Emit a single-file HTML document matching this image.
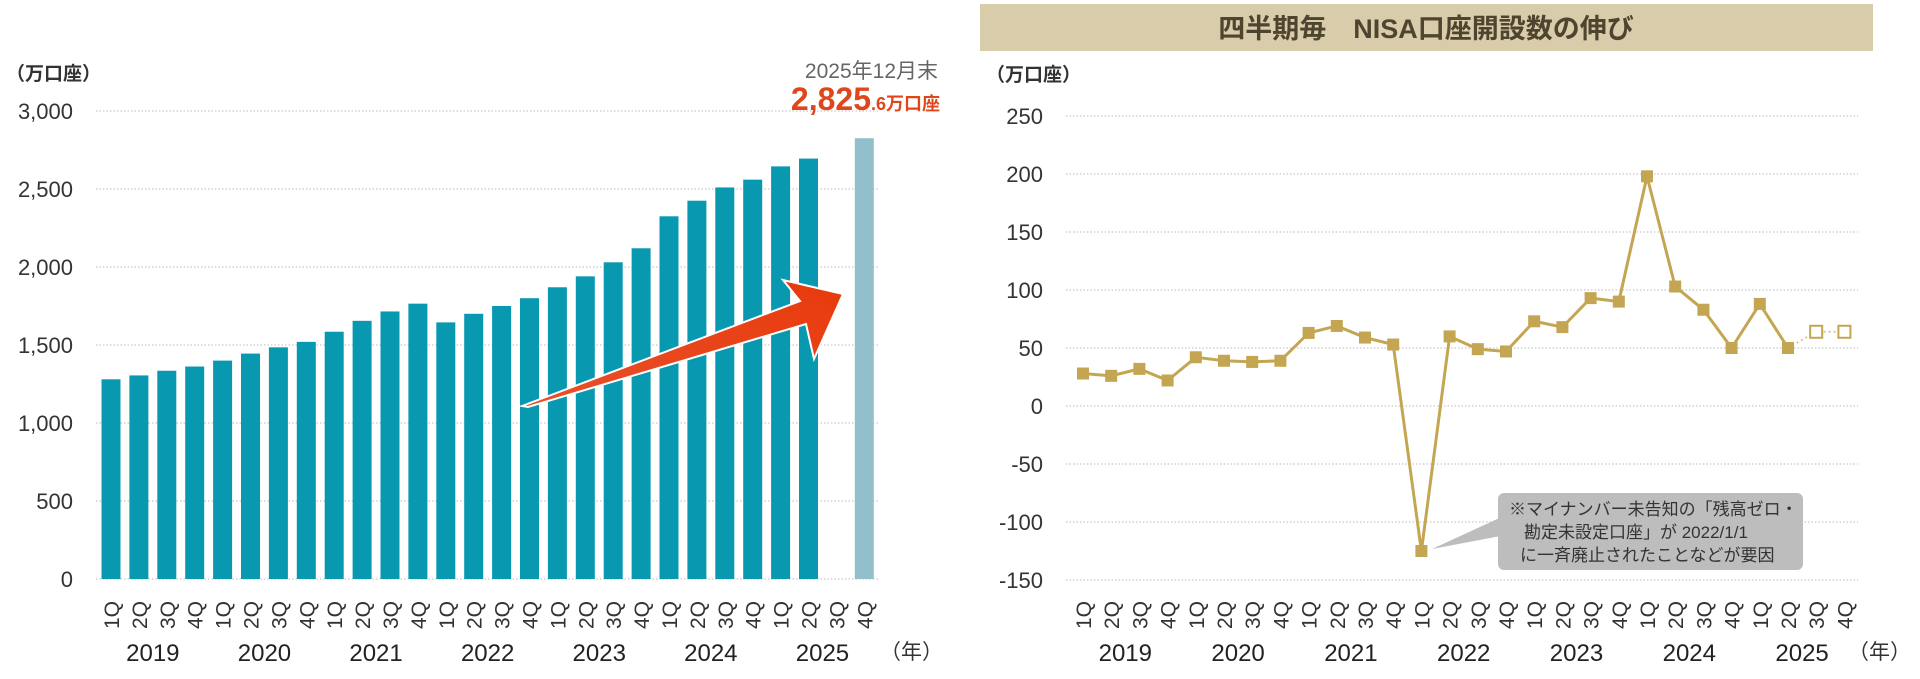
<!DOCTYPE html>
<html><head><meta charset="utf-8"><style>
body{margin:0;background:#fff;width:1920px;height:674px;overflow:hidden;font-family:"Liberation Sans","Noto Sans CJK JP",sans-serif}
svg text{font-family:"Liberation Sans","Noto Sans CJK JP",sans-serif}
</style></head><body>
<svg id="c" width="1920" height="674" viewBox="0 0 1920 674">
<defs><linearGradient id="ag" x1="0" y1="1" x2="1" y2="0"><stop offset="0" stop-color="#e8502a"/><stop offset="1" stop-color="#e83a0c"/></linearGradient></defs>
<g id="left"></g>
<g id="right"></g>
</svg>
<script>
const qLabels=["1Q","2Q","3Q","4Q"];
const years=["2019","2020","2021","2022","2023","2024","2025"];
const totalValues=[1280,1305,1335,1362,1400,1445,1485,1520,1585,1655,1715,1765,1645,1700,1750,1800,1870,1940,2030,2120,2325,2425,2510,2560,2645,2695,null,2825.6];
const leftTicks=[0,500,1000,1500,2000,2500,3000];
const leftTickLabels=["0","500","1,000","1,500","2,000","2,500","3,000"];
const growthValues=[28,26,32,22,42,39,38,39,63,69,59,53,-125,60,49,47,73,68,93,90,198,103,83,50,88,50];
const projectedValues=[64,64];
const rightTicks=[250,200,150,100,50,0,-50,-100,-150];
const NS="http://www.w3.org/2000/svg";
function mk(p,t,a,txt){const e=document.createElementNS(NS,t);for(const k in a)e.setAttribute(k,a[k]);if(txt!=null)e.textContent=txt;p.appendChild(e);return e;}
const L=document.getElementById('left'),R=document.getElementById('right');
const ly=v=>579-(v/3000)*468;
const lx=i=>111+i*27.9;
leftTicks.forEach((t,i)=>{
 const g=mk(L,'line',{x1:96,x2:878,y1:ly(t),y2:ly(t),stroke:'#c8c8c8','stroke-width':1.2,'stroke-dasharray':'1.5 2'});
 
 const tx=mk(L,'text',{x:73,y:ly(t)+8,'text-anchor':'end','font-size':22,fill:'#333'},leftTickLabels[i]);
 
});
totalValues.forEach((v,i)=>{ if(v==null)return;
 const r=mk(L,'rect',{x:lx(i)-9.5,y:ly(v),width:19,height:579-ly(v),fill:i==27?'#92bfc9':'#0898b0'});
 
});
function xLabels(P,xf,yq,yy,nx){
 for(let i=0;i<28;i++){const t=mk(P,'text',{x:0,y:0,transform:`translate(${xf(i)+8},${yq}) rotate(-90)`,'font-size':21,fill:'#333'},qLabels[i%4]);
  }
 years.forEach((y,k)=>{const t=mk(P,'text',{x:xf(k*4+1.5),y:yy,'text-anchor':'middle','font-size':24,fill:'#222'},y);
  });
 const n=mk(P,'text',{x:nx,y:yy-2,'font-size':21,fill:'#333'},'（年）');
}
xLabels(L,lx,629,661,880);
let t=mk(L,'text',{x:6,y:80,'font-size':19,'font-weight':'bold',fill:'#333'},'（万口座）');
t=mk(L,'text',{x:938,y:78,'text-anchor':'end','font-size':21,fill:'#666'},'2025年12月末');
t=mk(L,'text',{x:940,y:110,'text-anchor':'end',fill:'#e0461c','font-weight':'bold'});
mk(t,'tspan',{'font-size':32},'2,825');mk(t,'tspan',{'font-size':18},'.6万口座');
t=mk(L,'polygon',{points:'522,406 800,301 783,280 843,294 814,359 806,324 528,407',fill:'url(#ag)',stroke:'#fff','stroke-width':2});
t=mk(R,'rect',{x:980,y:4,width:893,height:47,fill:'#d9ccaa'});
t=mk(R,'text',{x:1426,y:38,'text-anchor':'middle','font-size':27,'font-weight':'bold',fill:'#4e4530'},'四半期毎　NISA口座開設数の伸び');
t=mk(R,'text',{x:986,y:81,'font-size':19,'font-weight':'bold',fill:'#333'},'（万口座）');
const ry=v=>116+(250-v)/400*464;
const rx=i=>1083+i*28.2;
rightTicks.forEach(v=>{
 const g=mk(R,'line',{x1:1066,x2:1858,y1:ry(v),y2:ry(v),stroke:'#c8c8c8','stroke-width':1.2,'stroke-dasharray':'1.5 2'});
 
 const tx=mk(R,'text',{x:1043,y:ry(v)+8,'text-anchor':'end','font-size':22,fill:'#333'},String(v));
 
});
const gold='#c4a552';
t=mk(R,'polyline',{points:growthValues.map((v,i)=>rx(i)+','+ry(v)).join(' '),fill:'none',stroke:gold,'stroke-width':3});
const n0=growthValues.length;
t=mk(R,'polyline',{points:[rx(n0-1)+','+ry(growthValues[n0-1])].concat(projectedValues.map((v,i)=>rx(n0+i)+','+ry(v))).join(' '),fill:'none',stroke:gold,'stroke-width':2,'stroke-dasharray':'2 3',opacity:0.6});
growthValues.forEach((v,i)=>{const m=mk(R,'rect',{x:rx(i)-6,y:ry(v)-6,width:12,height:12,fill:gold});});
projectedValues.forEach((v,i)=>{const m=mk(R,'rect',{x:rx(n0+i)-6,y:ry(v)-6,width:12,height:12,fill:'#fff',stroke:gold,'stroke-width':2});});
xLabels(R,rx,629,661,1848);
t=mk(R,'path',{d:'M1506,515 L1432,549 L1506,535 Z',fill:'#bdbdbd'});
t=mk(R,'rect',{x:1498,y:493,width:305,height:77,rx:6,fill:'#bdbdbd'});
[['※マイナンバー未告知の「残高ゼロ・',1509],['勘定未設定口座」が 2022/1/1',1524],['に一斉廃止されたことなどが要因',1520]].forEach((l,k)=>{
 const x=mk(R,'text',{x:l[1],y:515+k*23,'font-size':17,fill:'#333'},l[0]);});
</script>
</body></html>
